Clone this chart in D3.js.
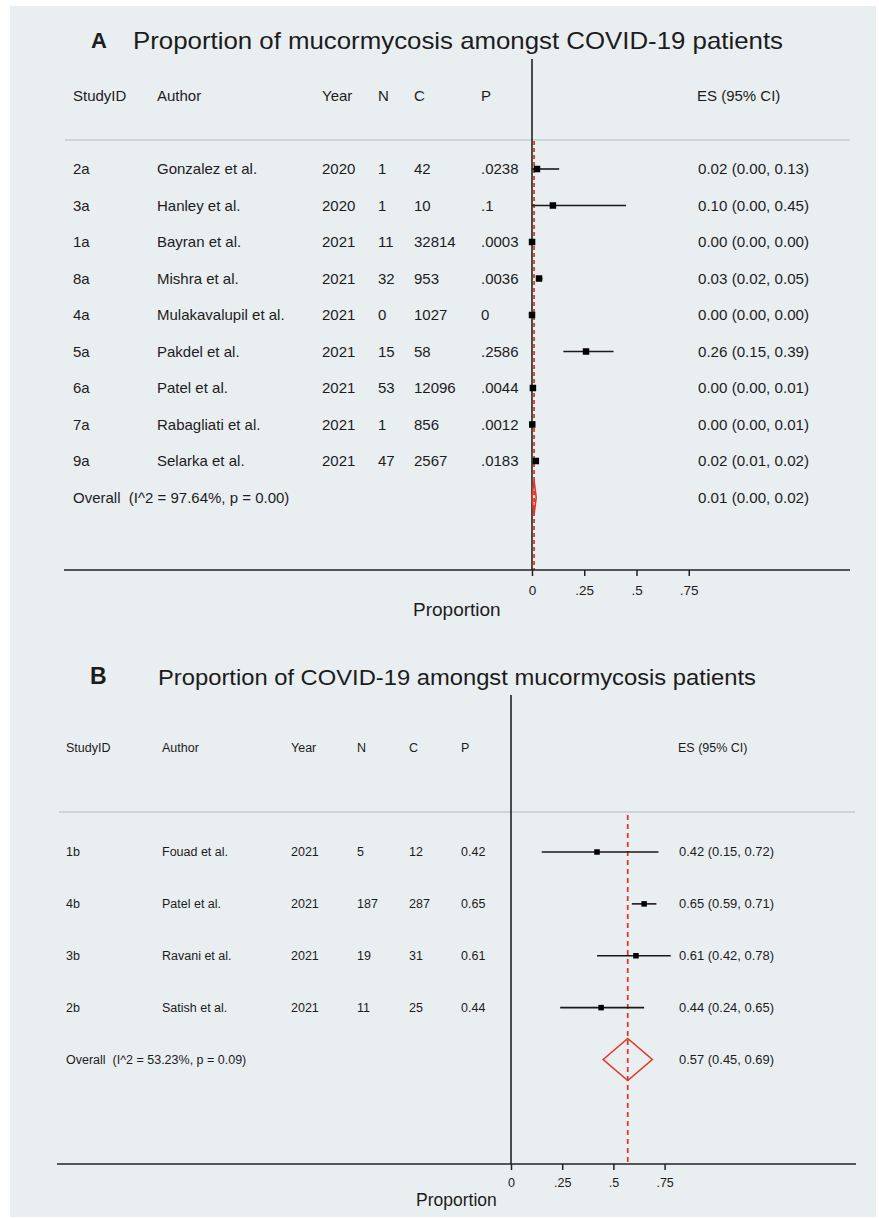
<!DOCTYPE html>
<html><head><meta charset="utf-8">
<script src="https://cdn.jsdelivr.net/npm/d3@7/dist/d3.min.js"></script>
<style>
html,body{margin:0;padding:0;background:#fff;}
svg text{font-family:"Liberation Sans",Arial,Helvetica,sans-serif;fill:#1c1c1c;white-space:pre;}
</style></head>
<body><svg id="c" width="879" height="1219"></svg>
<script>
// ---------- Panel A data ----------
const titleA = "Proportion of mucormycosis amongst COVID-19 patients";
const headersA = ["StudyID","Author","Year","N","C","P"];
const studyA = ["2a","3a","1a","8a","4a","5a","6a","7a","9a"];
const authorA = ["Gonzalez et al.","Hanley et al.","Bayran et al.","Mishra et al.","Mulakavalupil et al.","Pakdel et al.","Patel et al.","Rabagliati et al.","Selarka et al."];
const yearA = ["2020","2020","2021","2021","2021","2021","2021","2021","2021"];
const nA = ["1","1","11","32","0","15","53","1","47"];
const cA = ["42","10","32814","953","1027","58","12096","856","2567"];
const pA = [".0238",".1",".0003",".0036","0",".2586",".0044",".0012",".0183"];
const esA = [0.0238,0.10,0.0003,0.0336,0.0,0.2586,0.0044,0.0012,0.0183];
const loA = [0.00,0.00,0.00,0.02,0.00,0.15,0.00,0.00,0.01];
const hiA = [0.13,0.45,0.00,0.05,0.00,0.39,0.01,0.01,0.02];
const esLabelA = ["0.02 (0.00, 0.13)","0.10 (0.00, 0.45)","0.00 (0.00, 0.00)","0.03 (0.02, 0.05)","0.00 (0.00, 0.00)","0.26 (0.15, 0.39)","0.00 (0.00, 0.01)","0.00 (0.00, 0.01)","0.02 (0.01, 0.02)"];
const overallA = {label:"Overall  (I^2 = 97.64%, p = 0.00)", es:0.01, lo:0.00, hi:0.02, text:"0.01 (0.00, 0.02)"};

// ---------- Panel B data ----------
const titleB = "Proportion of COVID-19 amongst mucormycosis patients";
const studyB = ["1b","4b","3b","2b"];
const authorB = ["Fouad et al.","Patel et al.","Ravani et al.","Satish et al."];
const yearB = ["2021","2021","2021","2021"];
const nB = ["5","187","19","11"];
const cB = ["12","287","31","25"];
const pB = ["0.42","0.65","0.61","0.44"];
const esB = [0.42,0.65,0.61,0.44];
const loB = [0.15,0.59,0.42,0.24];
const hiB = [0.72,0.71,0.78,0.65];
const esLabelB = ["0.42 (0.15, 0.72)","0.65 (0.59, 0.71)","0.61 (0.42, 0.78)","0.44 (0.24, 0.65)"];
const overallB = {label:"Overall  (I^2 = 53.23%, p = 0.09)", es:0.57, lo:0.45, hi:0.69, text:"0.57 (0.45, 0.69)"};

const tickVals = [0,0.25,0.5,0.75];
const tickLabels = ["0",".25",".5",".75"];

const svg = d3.select("#c");
svg.append("rect").attr("x",10).attr("y",6).attr("width",866).attr("height",1211).attr("fill","#e9eef1");

function panel(cfg){
  const g = svg.append("g");
  const fs = cfg.fs;
  g.append("text").attr("x",cfg.letterX).attr("y",cfg.letterY).attr("font-size",cfg.letterFs)
    .attr("font-weight","bold").text(cfg.letter);
  g.append("text").attr("x",cfg.titleX).attr("y",cfg.titleY).attr("font-size",cfg.titleFs)
    .attr("textLength",cfg.titleW).attr("lengthAdjust","spacingAndGlyphs").text(cfg.title);
  headersA.forEach((h,i)=>{
    g.append("text").attr("x",cfg.cols[i]).attr("y",cfg.headY).attr("dy","0.35em").attr("font-size",fs).text(h);
  });
  g.append("text").attr("x",cfg.esX).attr("y",cfg.headY).attr("dy","0.35em").attr("font-size",fs).text("ES (95% CI)");
  g.append("line").attr("x1",cfg.lineX1).attr("x2",cfg.lineX2).attr("y1",cfg.sepY).attr("y2",cfg.sepY)
    .attr("stroke","#c6cbce").attr("stroke-width",1.6);

  const x = d3.scaleLinear().domain([0,1]).range([cfg.x0, cfg.x0+cfg.unit]);
  const n = cfg.study.length;
  const y = d3.scalePoint().domain(d3.range(n+1)).range([cfg.y0, cfg.y1]);

  g.append("line").attr("x1",x(0)).attr("x2",x(0)).attr("y1",cfg.vTop).attr("y2",cfg.axisY)
    .attr("stroke","#222").attr("stroke-width",1.6);
  g.append("line").attr("x1",x(cfg.overall.es)).attr("x2",x(cfg.overall.es)).attr("y1",cfg.redTop).attr("y2",cfg.axisY)
    .attr("stroke","#e0392b").attr("stroke-width",1.8).attr("stroke-dasharray",cfg.dash);

  const colsData = [cfg.study,cfg.author,cfg.year,cfg.n,cfg.c,cfg.p];
  d3.range(n).forEach(i=>{
    colsData.forEach((arr,j)=>{
      g.append("text").attr("x",cfg.cols[j]).attr("y",y(i)).attr("dy","0.35em").attr("font-size",fs).text(arr[i]);
    });
    g.append("text").attr("x",cfg.esX+1).attr("y",y(i)).attr("dy","0.35em").attr("font-size",fs)
      .attr("textLength",cfg.esW).attr("lengthAdjust","spacingAndGlyphs").text(cfg.esLabel[i]);
  });
  g.selectAll(".ci").data(d3.range(n)).join("line")
    .attr("x1",i=>x(cfg.lo[i])).attr("x2",i=>x(cfg.hi[i]))
    .attr("y1",i=>y(i)).attr("y2",i=>y(i)).attr("stroke","#1a1a1a").attr("stroke-width",1.6);
  const s = cfg.sq;
  g.selectAll(".sq").data(d3.range(n)).join("rect")
    .attr("x",i=>x(cfg.es[i])-s/2).attr("y",i=>y(i)-s/2).attr("width",s).attr("height",s).attr("fill","#000");
  const yo = y(n);
  g.append("text").attr("x",cfg.cols[0]).attr("y",yo).attr("dy","0.35em").attr("font-size",fs).text(cfg.overall.label);
  g.append("text").attr("x",cfg.esX+1).attr("y",yo).attr("dy","0.35em").attr("font-size",fs)
    .attr("textLength",cfg.esW).attr("lengthAdjust","spacingAndGlyphs").text(cfg.overall.text);
  const o = cfg.overall, h = cfg.dh;
  g.append("path").attr("d",`M${x(o.lo)},${yo} L${x(o.es)},${yo-h} L${x(o.hi)},${yo} L${x(o.es)},${yo+h} Z`)
    .attr("fill","none").attr("stroke","#e0392b").attr("stroke-width",1.6);

  g.append("line").attr("x1",cfg.axX1).attr("x2",cfg.axX2).attr("y1",cfg.axisY).attr("y2",cfg.axisY)
    .attr("stroke","#222").attr("stroke-width",1.6);
  const ax = g.append("g").attr("transform",`translate(0,${cfg.axisY})`)
    .call(d3.axisBottom(x).tickValues(tickVals).tickFormat((d,i)=>tickLabels[i]).tickSize(6).tickPadding(cfg.tickPad));
  ax.select(".domain").remove();
  ax.selectAll(".tick line").attr("stroke","#222").attr("stroke-width",1.5);
  ax.selectAll(".tick text").attr("font-size",cfg.tickFs).attr("font-family","Liberation Sans, Arial, sans-serif").attr("fill","#1c1c1c");
  g.append("text").attr("x",cfg.propX).attr("y",cfg.propY).attr("font-size",cfg.propFs).text("Proportion");
}

panel({letter:"A",letterX:91,letterY:48,letterFs:22,title:titleA,titleX:133,titleY:49,titleFs:24,titleW:650,
  fs:15,cols:[73,157,322,378,414,481],headY:96,esX:697,esW:111,sepY:140,lineX1:65,lineX2:850,
  x0:532,unit:209,y0:169,y1:497.5,vTop:59,redTop:141,axisY:570,dash:"4,3",
  study:studyA,author:authorA,year:yearA,n:nA,c:cA,p:pA,es:esA,lo:loA,hi:hiA,esLabel:esLabelA,overall:overallA,
  sq:6.5,dh:17,axX1:64,axX2:850,tickPad:9.5,tickFs:13.5,propX:413,propY:616,propFs:19});

panel({letter:"B",letterX:90,letterY:684,letterFs:23,title:titleB,titleX:158,titleY:685,titleFs:22,titleW:598,
  fs:12.5,cols:[66,162,291,357,409,461],headY:748,esX:678,esW:95,sepY:812,lineX1:59,lineX2:855,
  x0:511,unit:204.8,y0:852,y1:1059.5,vTop:695,redTop:815,axisY:1164,dash:"5,4",
  study:studyB,author:authorB,year:yearB,n:nB,c:cB,p:pB,es:esB,lo:loB,hi:hiB,esLabel:esLabelB,overall:overallB,
  sq:5.5,dh:21,axX1:57,axX2:856,tickPad:8,tickFs:12.5,propX:416,propY:1206,propFs:17.5});
</script></body></html>
